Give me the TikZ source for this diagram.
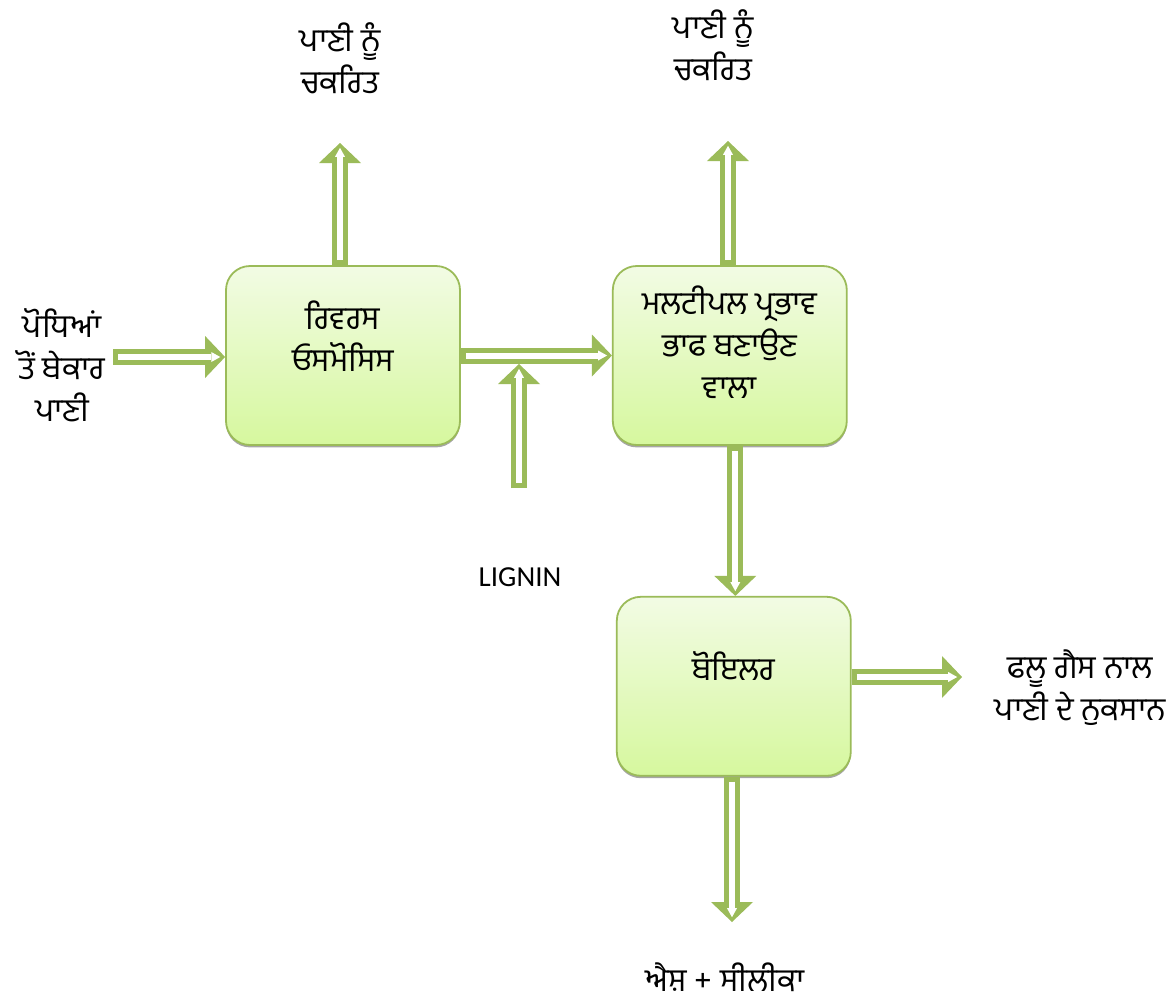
\documentclass[tikz,border=0pt]{standalone}
\usepackage{fontspec}
\setmainfont{Carlito}
\newfontfamily\gurmukhi[Script=Gurmukhi]{Hind Jalandhar}
\usepackage{tikz}
\usetikzlibrary{positioning,arrows.meta,shadows}

\definecolor{flowgreen}{RGB}{155,187,89}
\definecolor{boxtop}{RGB}{242,251,228}
\definecolor{boxbottom}{RGB}{214,248,158}

\begin{document}
\begin{tikzpicture}[x=0.5pt, y=-0.5pt,
    box/.style={draw=flowgreen, line width=0.9pt, rounded corners=12pt, top color=boxtop, bottom color=boxbottom,
        minimum width=117pt, minimum height=89.5pt,
        drop shadow={shadow xshift=0pt, shadow yshift=-1.2pt, fill=black!50, opacity=0.7}},
    pa/.style={font=\gurmukhi\fontsize{16}{21}\selectfont, align=center, inner sep=0pt},
    flow/.style={draw=flowgreen, line width=8pt, -{Triangle[length=10pt, width=21pt, line width=0pt]},
        postaction={draw=white, line width=3pt, shorten <=2.5pt, shorten >=2.4pt,
            -{Triangle[length=4.5pt, width=5pt, line width=0pt]}}}]
    \useasboundingbox (0,0) rectangle (1175,1002);

    \node[box] (ro) at (343,355.5) {};
    \node[box, right=75.5pt of ro] (mee) {};
    \node[box, below=75pt of mee, xshift=2pt] (boiler) {};

    \node[pa] (rolbl) at ([yshift=9.5pt]ro.center) {ਰਿਵਰਸ\\ਓਸਮੋਸਿਸ};
    \node[pa] (meelbl) at ([yshift=6.5pt]mee.center) {ਮਲਟੀਪਲ ਪ੍ਰਭਾਵ\\ਭਾਫ ਬਣਾਉਣ\\ਵਾਲਾ};
    \node[pa] (boilerlbl) at ([yshift=10pt]boiler.center) {ਬੋਇਲਰ};

    \node[pa] (waste) at (62,365) {ਪੋਧਿਆਂ\\ਤੋਂ ਬੇਕਾਰ\\ਪਾਣੀ};
    \node[pa] (reuse1) at (340,58) {ਪਾਣੀ ਨੂੰ\\ਚਕਰਿਤ};
    \node[pa] (reuse2) at (713,45.5) {ਪਾਣੀ ਨੂੰ\\ਚਕਰਿਤ};
    \node[pa] (flue) at (1080,688) {ਫਲੂ ਗੈਸ ਨਾਲ\\ਪਾਣੀ ਦੇ ਨੁਕਸਾਨ};
    \node[pa] (ash) at (725,977) {ਐਸ਼ + ਸੀਲੀਕਾ};
    \node[font=\fontsize{14.5}{17}\selectfont, inner sep=0pt] (lignin) at (520,577) {LIGNIN};

    \coordinate (wasteout) at (113,357);
    \coordinate (ligninout) at (519,488);
    \coordinate (ligninin) at (519,364);
    \coordinate (roout) at (340,143);
    \coordinate (meeout) at (728,141);
    \coordinate (flueout) at (962,677);
    \coordinate (ashout) at (732,922);

    \draw[flow] (wasteout) -- (wasteout -| ro.west);
    \draw[flow] (ro.east) -- (ro.east -| mee.west);
    \draw[flow] (ligninout) -- (ligninin);
    \draw[flow] (roout |- ro.north) -- (roout);
    \draw[flow] (meeout |- mee.north) -- (meeout);
    \draw[flow] ([xshift=2.75pt]mee.south) -- ([xshift=2.75pt]mee.south |- boiler.north);
    \draw[flow] (flueout -| boiler.east) -- (flueout);
    \draw[flow] (ashout |- boiler.south) -- (ashout);
\end{tikzpicture}
\end{document}
